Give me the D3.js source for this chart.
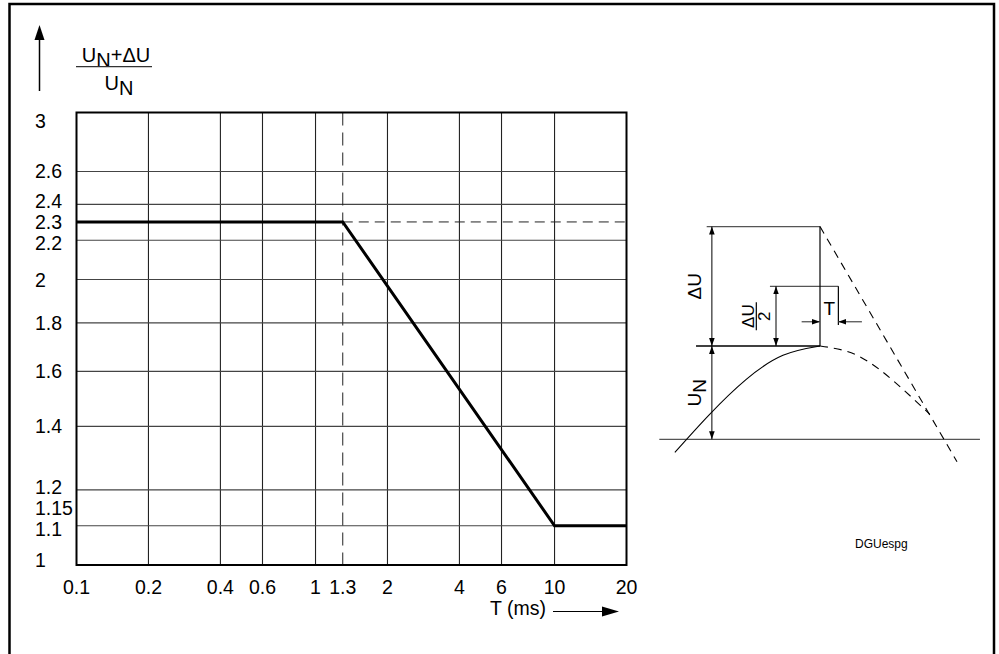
<!DOCTYPE html>
<html>
<head>
<meta charset="utf-8">
<script src="https://cdn.jsdelivr.net/npm/d3@7"></script>
<style>
  body { margin: 0; background: #fff; }
  text { font-family: "Liberation Sans", Arial, sans-serif; fill: #000; }
</style>
</head>
<body>
<div id="chart"></div>
<script>
// time axis (ms), log scale
var xTicks = [0.1, 0.2, 0.4, 0.6, 1, 1.3, 2, 4, 6, 10, 20];
var xGrid = [0.2, 0.4, 0.6, 1, 2, 4, 6, 10];
// (UN + dU) / UN, log scale
var yTicks = [3, 2.6, 2.4, 2.3, 2.2, 2, 1.8, 1.6, 1.4, 1.2, 1.15, 1.1, 1];
var yGrid = [2.6, 2.4, 2.2, 2, 1.8, 1.6, 1.4, 1.2, 1.1];
// limit curve
var limitT = [0.1, 1.3, 10, 20];
var limitU = [2.3, 2.3, 1.1, 1.1];
// sketch on the right (angle in degrees, voltage in units of UN)
var dU = 1.28, Tw = 12.4;
var waveA = [-98, -75, -50, -25, 0];
var waveU = [-0.14, 0.26, 0.64, 0.9, 1];
var tailA = [0, 25, 50, 74];
var tailU = [1, 0.9, 0.62, 0.27];

var W = 999, H = 654;
var svg = d3.select("#chart").append("svg")
  .attr("width", W).attr("height", H);

svg.append("rect").attr("width", W).attr("height", H).attr("fill", "#fff");

var defs = svg.append("defs");
defs.append("marker").attr("id", "ah")
  .attr("viewBox", "0 0 10 10").attr("refX", 10).attr("refY", 5)
  .attr("markerWidth", 8).attr("markerHeight", 8)
  .attr("markerUnits", "userSpaceOnUse")
  .attr("orient", "auto-start-reverse")
  .append("path").attr("d", "M0,1.5 L10,5 L0,8.5 Z").attr("fill", "#000");

// outer frame
svg.append("path")
  .attr("d", "M9.5,660 V4 H994 V660")
  .attr("fill", "none").attr("stroke", "#000").attr("stroke-width", 2.5);

var x = d3.scaleLog().domain([0.1, 20]).range([76.5, 626.5]);
var y = d3.scaleLog().domain([1, 3]).range([565, 112.5]);

// grid
svg.append("g").selectAll("line").data(xGrid).join("line")
  .attr("x1", d => x(d)).attr("x2", d => x(d))
  .attr("y1", y(1)).attr("y2", y(3))
  .attr("stroke", "#222").attr("stroke-width", 1.1);
svg.append("g").selectAll("line").data(yGrid).join("line")
  .attr("x1", x(0.1)).attr("x2", x(20))
  .attr("y1", d => y(d)).attr("y2", d => y(d))
  .attr("stroke", "#444").attr("stroke-width", 1.1);

// dashed guides at 1.3 ms and 2.3
svg.append("line")
  .attr("x1", x(1.3)).attr("x2", x(1.3)).attr("y1", y(3)).attr("y2", y(1))
  .attr("stroke", "#222").attr("stroke-width", 1).attr("stroke-dasharray", "13,7");
svg.append("line")
  .attr("x1", x(1.3)).attr("x2", x(20)).attr("y1", y(2.3)).attr("y2", y(2.3))
  .attr("stroke", "#222").attr("stroke-width", 1).attr("stroke-dasharray", "10,6");

// plot frame
svg.append("rect")
  .attr("x", x(0.1)).attr("y", y(3))
  .attr("width", x(20) - x(0.1)).attr("height", y(1) - y(3))
  .attr("fill", "none").attr("stroke", "#000").attr("stroke-width", 2);

// limit curve
var limit = limitT.map((t, i) => [t, limitU[i]]);
svg.append("path").datum(limit)
  .attr("d", d3.line().x(d => x(d[0])).y(d => y(d[1])))
  .attr("fill", "none").attr("stroke", "#000").attr("stroke-width", 3);

// tick labels
svg.append("g").selectAll("text").data(xTicks).join("text")
  .attr("x", d => x(d)).attr("y", 594)
  .attr("text-anchor", "middle").attr("font-size", 19.5)
  .text(d => d);

// y labels: keep inside the frame and push crowded ones apart
var gap = 21;
var ly = yTicks.map(d => Math.min(Math.max(y(d), y(3) + 8), y(1) - 5));
for (var it = 0; it < 30; it++) {
  for (var i = 1; i < ly.length; i++) {
    var over = gap - (ly[i] - ly[i - 1]);
    if (over > 0) {
      var lock0 = (i - 1 === 0), lock1 = (i === ly.length - 1);
      if (lock0) ly[i] += over;
      else if (lock1) ly[i - 1] -= over;
      else { ly[i - 1] -= over / 2; ly[i] += over / 2; }
    }
  }
}
svg.append("g").selectAll("text").data(yTicks).join("text")
  .attr("x", 35)
  .attr("y", (d, i) => ly[i])
  .attr("dy", "0.36em").attr("font-size", 19.5)
  .text(d => d);

// y axis label
svg.append("line").attr("x1", 39.5).attr("x2", 39.5).attr("y1", 38).attr("y2", 91)
  .attr("stroke", "#000").attr("stroke-width", 1.5);
svg.append("path").attr("d", "M39.5,25 L34.5,40 L44.5,40 Z").attr("fill", "#000");
var num = svg.append("text").attr("x", 116).attr("y", 62)
  .attr("text-anchor", "middle").attr("font-size", 20);
num.append("tspan").text("U");
num.append("tspan").attr("dy", 5).text("N");
num.append("tspan").attr("dy", -5).text("+\u0394U");
svg.append("line").attr("x1", 76).attr("x2", 152).attr("y1", 66.7).attr("y2", 66.7)
  .attr("stroke", "#333").attr("stroke-width", 1.2);
var den = svg.append("text").attr("x", 119).attr("y", 90)
  .attr("text-anchor", "middle").attr("font-size", 20);
den.append("tspan").text("U");
den.append("tspan").attr("dy", 5).text("N");

// x axis label
svg.append("text").attr("x", 490).attr("y", 615).attr("font-size", 19.5).text("T (ms)");
svg.append("line").attr("x1", 553).attr("x2", 604).attr("y1", 611.5).attr("y2", 611.5)
  .attr("stroke", "#000").attr("stroke-width", 1);
svg.append("path").attr("d", "M619,611.5 L602,606.5 L602,616.5 Z").attr("fill", "#000");

// ---- sketch ----
var sx = d3.scaleLinear().domain([0, 90]).range([820, 953.3]);
var sy = d3.scaleLinear().domain([0, 1]).range([439.3, 346]);
var sk = svg.append("g");

function seg(a1, u1, a2, u2, opt) {
  var l = sk.append("line")
    .attr("x1", sx(a1)).attr("y1", sy(u1)).attr("x2", sx(a2)).attr("y2", sy(u2))
    .attr("stroke", opt && opt.c || "#000").attr("stroke-width", opt && opt.w || 1);
  if (opt && opt.dash) l.attr("stroke-dasharray", opt.dash);
  if (opt && opt.s) l.attr("marker-start", "url(#ah)");
  if (opt && opt.e) l.attr("marker-end", "url(#ah)");
  return l;
}

seg(-108.5, 0, 108, 0, {c: "#555", w: 1.3});          // base line
seg(-76.5, 1 + dU, 0, 1 + dU, {c: "#555", w: 1.3});   // top
seg(-83.7, 1, 0, 1, {w: 1.3});                         // UN level
seg(-33.8, 1 + dU / 2, Tw, 1 + dU / 2, {c: "#555", w: 1.3});
seg(0, 1, 0, 1 + dU, {w: 1.2});
seg(Tw, 1 + dU / 2, Tw, 1.225, {w: 1.2});
// dimensions
seg(-73, 1, -73, 1 + dU, {s: 1, e: 1});
seg(-73, 0, -73, 1, {s: 1, e: 1});
seg(-29.7, 1, -29.7, 1 + dU / 2, {s: 1, e: 1});
seg(-12.4, 1.26, 0, 1.26, {e: 1, c: "#555", w: 1.3});
seg(28.3, 1.26, Tw, 1.26, {e: 1, c: "#555", w: 1.3});

// wave
var wl = d3.line().x(d => sx(d[0])).y(d => sy(d[1])).curve(d3.curveNatural);
sk.append("path").datum(waveA.map((a, i) => [a, waveU[i]]))
  .attr("d", wl).attr("fill", "none").attr("stroke", "#000").attr("stroke-width", 1.1);
sk.append("path").datum(tailA.map((a, i) => [a, tailU[i]]))
  .attr("d", wl).attr("fill", "none").attr("stroke", "#000").attr("stroke-width", 1.1)
  .attr("stroke-dasharray", "8,6");
seg(0, 1 + dU, 92.5, -0.24, {w: 1.1, dash: "8,6"});

// sketch labels
function rot(a, u, fs) {
  return sk.append("text")
    .attr("transform", "translate(" + sx(a) + "," + sy(u) + ") rotate(-90)")
    .attr("text-anchor", "middle").attr("dy", "0.36em").attr("font-size", fs);
}
rot(-85, 1 + dU / 2, 19).text("\u0394U");
var un = rot(-85, 0.5, 19);
un.append("tspan").text("U");
un.append("tspan").attr("dy", 5).text("N");

var fr = sk.append("g")
  .attr("transform", "translate(" + sx(-43) + "," + sy(1 + dU / 4) + ") rotate(-90)");
fr.append("text").attr("text-anchor", "middle").attr("y", -2).attr("font-size", 17).text("\u0394U");
fr.append("line").attr("x1", -14).attr("x2", 14).attr("y1", 0).attr("y2", 0)
  .attr("stroke", "#000").attr("stroke-width", 1.2);
fr.append("text").attr("text-anchor", "middle").attr("y", 14).attr("font-size", 17).text("2");

sk.append("text").attr("x", sx(Tw / 2)).attr("y", sy(1.41))
  .attr("text-anchor", "middle").attr("dy", "0.36em").attr("font-size", 19).text("T");

svg.append("text").attr("x", 855).attr("y", 548).attr("font-size", 12).text("DGUespg");
</script>
</body>
</html>
